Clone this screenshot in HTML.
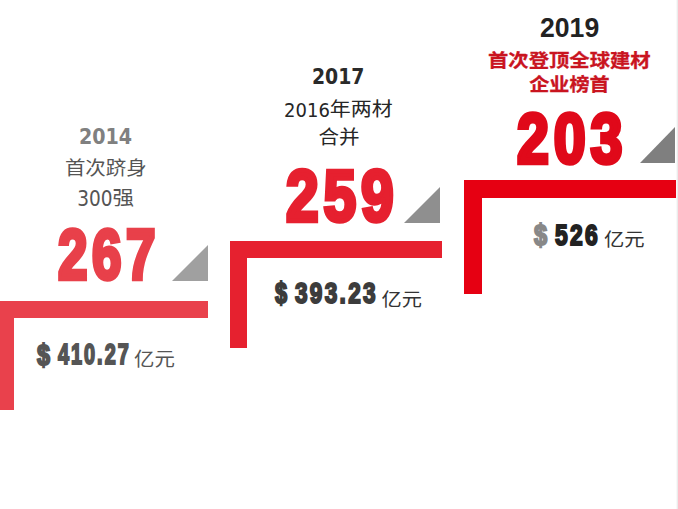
<!DOCTYPE html>
<html lang="zh-CN">
<head>
<meta charset="utf-8">
<title>发展历程</title>
<style>
html,body{margin:0;padding:0;background:#fff;}
body{width:678px;height:509px;position:relative;overflow:hidden;font-family:"Liberation Sans","Noto Sans CJK SC",sans-serif;}
.a{position:absolute;white-space:nowrap;transform-origin:0 0;line-height:1.2;}
.yr{font-family:"DejaVu Sans Condensed","DejaVu Sans",sans-serif;font-weight:bold;}
.cjk{font-family:"Noto Sans CJK SC",sans-serif;}
.dj{font-family:"DejaVu Sans Condensed","DejaVu Sans",sans-serif;}
.big{font-family:"Liberation Sans",sans-serif;font-weight:bold;}
.tri{position:absolute;width:0;height:0;border-style:solid;}
.bar{position:absolute;}
</style>
</head>
<body>
<div class="tri" style="left:172px;top:245px;border-width:0 0 36px 36px;border-color:transparent transparent #a0a0a0 transparent;"></div>
<div class="bar" style="left:0;top:301px;width:208px;height:17px;background:#e9414c;"></div>
<div class="bar" style="left:0;top:301px;width:14px;height:109px;background:#e9414c;"></div>
<div class="tri" style="left:404px;top:187px;border-width:0 0 36px 36px;border-color:transparent transparent #8f8f8f transparent;"></div>
<div class="bar" style="left:230px;top:241px;width:212px;height:17px;background:#e6212f;"></div>
<div class="bar" style="left:230px;top:241px;width:17px;height:107px;background:#e6212f;"></div>
<div class="tri" style="left:640px;top:127px;border-width:0 0 36px 35px;border-color:transparent transparent #7f7f7f transparent;"></div>
<div class="bar" style="left:464px;top:180px;width:212px;height:18px;background:#e60012;"></div>
<div class="bar" style="left:464px;top:180px;width:18px;height:114px;background:#e60012;"></div>
<div class="bar" style="left:677px;top:0;width:1px;height:509px;background:#ebebeb;"></div>
<div class="bar" style="left:676px;top:0;width:1px;height:509px;background:#f8f8f8;"></div>
<div class="a yr" style="left:78.97px;top:124.57px;font-size:20.82px;color:#808080;transform:scale(1.0188,1.0000);">2014</div>
<div class="a cjk" style="left:64.90px;top:155.78px;font-size:20.44px;color:#555;transform:scale(1.0000,0.9200);">首次跻身</div>
<div class="a dj" style="left:77.13px;top:183.63px;font-size:20.58px;color:#555;">300<span class="cjk" style="font-size:1.05em;display:inline-block;transform:scaleY(.92)">强</span></div>
<div class="a big" style="left:58.09px;top:211.51px;font-size:71.11px;color:#e8404a;transform:scale(0.7454,1.0000);-webkit-text-stroke:4.5px #e8404a;letter-spacing:6px;">267</div>
<div class="a big" style="left:36.74px;top:336.93px;font-size:29.88px;color:#555;transform:scale(0.7821,1.0000);-webkit-text-stroke:2px #555;letter-spacing:3px;">$</div>
<div class="a big" style="left:57.65px;top:336.26px;font-size:29.53px;color:#555;transform:scale(0.6714,1.0000);-webkit-text-stroke:2px #555;letter-spacing:3px;">410.27</div>
<div class="a cjk" style="left:134.01px;top:346.88px;font-size:20.45px;color:#555;transform:scale(1.0000,0.9200);">亿元</div>
<div class="a yr" style="left:312.13px;top:63.66px;font-size:21.29px;color:#2a2a2a;transform:scale(0.9846,1.0000);">2017</div>
<div class="a dj" style="left:284.10px;top:95.63px;font-size:19.98px;color:#262626;">2016<span class="cjk" style="font-size:1.05em;display:inline-block;transform:scaleY(.92)">年两材</span></div>
<div class="a cjk" style="left:318.57px;top:125.00px;font-size:20.54px;color:#262626;transform:scale(1.0000,0.9200);">合并</div>
<div class="a big" style="left:285.70px;top:153.00px;font-size:72.00px;color:#e6202f;transform:scale(0.8155,1.0000);-webkit-text-stroke:4.5px #e6202f;letter-spacing:6px;">259</div>
<div class="a big" style="left:274.52px;top:275.20px;font-size:29.70px;color:#3c3c3c;transform:scale(0.7321,1.0000);-webkit-text-stroke:2px #3c3c3c;letter-spacing:3px;">$</div>
<div class="a big" style="left:295.00px;top:275.36px;font-size:29.72px;color:#3c3c3c;transform:scale(0.7608,1.0000);-webkit-text-stroke:2px #3c3c3c;letter-spacing:3px;">393.23</div>
<div class="a cjk" style="left:381.52px;top:287.60px;font-size:20.22px;color:#333;transform:scale(1.0000,0.9200);">亿元</div>
<div class="a big" style="left:540.12px;top:9.62px;font-size:28.54px;color:#222;transform:scale(0.9329,1.0000);">2019</div>
<div class="a cjk" style="left:488.01px;top:47.70px;font-size:20.34px;color:#c9141f;transform:scale(1.0000,0.9200);font-weight:bold;-webkit-text-stroke:0.3px #c9141f;">首次登顶全球建材</div>
<div class="a cjk" style="left:529.27px;top:73.32px;font-size:20.10px;color:#c9141f;transform:scale(1.0000,0.9200);font-weight:bold;-webkit-text-stroke:0.3px #c9141f;">企业榜首</div>
<div class="a big" style="left:516.66px;top:95.88px;font-size:71.24px;color:#e0091a;transform:scale(0.8054,1.0000);-webkit-text-stroke:4.5px #e0091a;letter-spacing:6px;">203</div>
<div class="a big" style="left:533.79px;top:217.40px;font-size:29.96px;color:#888;transform:scale(0.7879,1.0000);-webkit-text-stroke:2px #888;letter-spacing:3px;">$</div>
<div class="a big" style="left:554.89px;top:217.19px;font-size:29.65px;color:#222;transform:scale(0.7695,1.0000);-webkit-text-stroke:2px #222;letter-spacing:3px;">526</div>
<div class="a cjk" style="left:604.00px;top:227.15px;font-size:20.33px;color:#333;transform:scale(1.0000,0.9200);">亿元</div>
</body>
</html>
